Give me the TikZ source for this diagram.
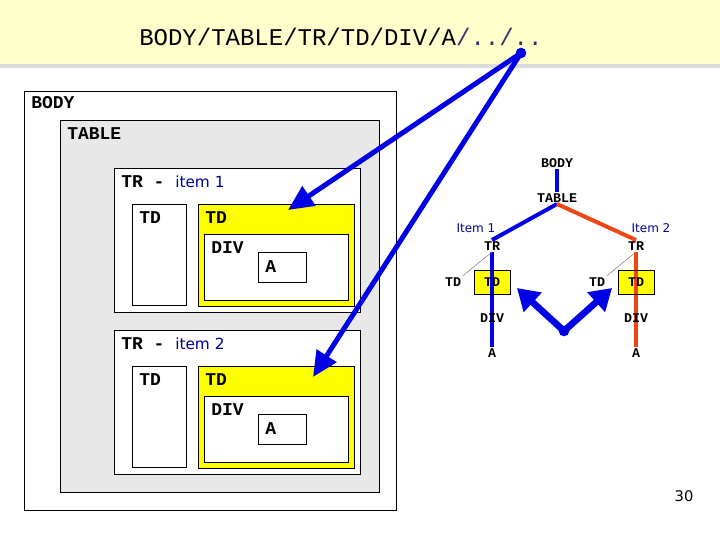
\documentclass[tikz,border=0pt]{standalone}
\usepackage{fontspec}
\setmonofont{Liberation Mono}
\newfontfamily\sansfnt{DejaVu Sans}
\usetikzlibrary{arrows.meta}
\usetikzlibrary{backgrounds}
\definecolor{hdryellow}{RGB}{255,255,204}
\definecolor{hdrshadow}{RGB}{220,220,220}
\definecolor{pathblue}{RGB}{51,51,110}
\definecolor{tablegray}{RGB}{232,232,232}
\definecolor{itemblue}{RGB}{0,0,153}
\definecolor{edgeblue}{RGB}{0,0,230}
\definecolor{edgered}{RGB}{240,70,20}
\definecolor{cellyellow}{RGB}{255,255,0}
\tikzset{
 boxlabel/.style={anchor=base west, inner sep=0, font=\ttfamily\bfseries\fontsize{13.5}{15}\selectfont},
 treelabel/.style={inner sep=1pt, font=\ttfamily\bfseries\fontsize{10}{11}\selectfont},
 itemlabel/.style={inner sep=0, font=\sansfnt\fontsize{9}{10}\selectfont, text=itemblue},
 treeedge/.style={line width=3pt},
 pointer/.style={edgeblue, line width=3.75pt, -{Triangle[length=19pt,width=17pt]}},
 vpointer/.style={edgeblue, line width=5pt, -{Triangle[length=16pt,width=19pt]}},
}

\begin{document}
\begin{tikzpicture}[x=0.75pt,y=-0.75pt]
\useasboundingbox (0,0) rectangle (720,540);
% header
\fill[hdryellow] (0,0) rectangle (720,64);
\fill[hdrshadow] (0,64) rectangle (720,68);
\node[anchor=base west, inner sep=0, font=\ttfamily\fontsize{18}{20}\selectfont] (xpath) at (139,45) {BODY/TABLE/TR/TD/DIV/A\textcolor{pathblue}{/../..}};

% nested boxes
\draw[fill=white] (24,91) rectangle (396,510);
\node[boxlabel] (body) at (31,108) {BODY};
\draw[fill=tablegray] (60,120) rectangle (379,492);
\node[boxlabel] (table) at (67,139) {TABLE};
\foreach \i/\dy in {1/0,2/162} {
 \begin{scope}[shift={(0,\dy)}]
 \draw[fill=white] (114,168) rectangle (360,312);
 \node[boxlabel] (tr\i) at (121,187) {TR - {\sansfnt\mdseries\fontsize{11.5}{13}\selectfont\color{itemblue}item \i}};
 \draw[fill=white] (132,204) rectangle (186,305);
 \node[boxlabel] (tdl\i) at (139,223) {TD};
 \draw[fill=cellyellow] (198,204) rectangle (354,306);
 \node[boxlabel] (td\i) at (205,223) {TD};
 \draw[fill=white] (204,234) rectangle (348,300);
 \node[boxlabel] (div\i) at (211,253) {DIV};
 \draw[fill=white] (258,252) rectangle (306,282);
 \node[boxlabel] (a\i) at (265,272) {A};
 \end{scope}
}

% tree
\node[treelabel] (tbody) at (557,163) {BODY};
\node[treelabel] (ttable) at (557,198) {TABLE};
\draw[edgeblue, treeedge] (tbody.south) -- (ttable.north);
\foreach \i/\x/\ix/\col in {1/492/476/edgeblue,2/636/651/edgered} {
 \node[itemlabel] (titem\i) at (\ix,228) {Item \i};
 \node[treelabel] (ttr\i) at (\x,246) {TR};
 \node[treelabel, draw, minimum width=27pt, minimum height=18pt] (ttd\i) at (\x,282) {TD};
 \node[treelabel] (ttdl\i) at (\x-39,282) {TD};
 \node[treelabel] (tdiv\i) at (\x,318) {DIV};
 \node[treelabel] (ta\i) at (\x,353) {A};
 \begin{scope}[on background layer]
  \fill[cellyellow] (ttd\i.south west) rectangle (ttd\i.north east);
  \draw[\col, treeedge] (ttable.south) -- (ttr\i.north);
  \draw[\col, treeedge] (ttr\i.south) -- (ta\i.north);
  \draw[gray] (ttr\i.south) -- (ttdl\i.north east);
 \end{scope}
}

% pointers
\coordinate (src) at (521,53);
\coordinate (tip1) at (288,210);
\coordinate (tip2) at (313,377);
\draw[pointer] (src) -- (tip1);
\draw[pointer] (src) -- (tip2);
\fill[edgeblue] (src) circle (4pt);
\coordinate (vtx) at (564,331);
\coordinate (vl) at (517,288);
\coordinate (vr) at (612,288);
\draw[vpointer] (vtx) -- (vl);
\draw[vpointer] (vtx) -- (vr);
\fill[edgeblue] (vtx) circle (4pt);

\node[font=\sansfnt\fontsize{11}{12}\selectfont] (pagenum) at (684,496) {30};
\end{tikzpicture}
\end{document}
